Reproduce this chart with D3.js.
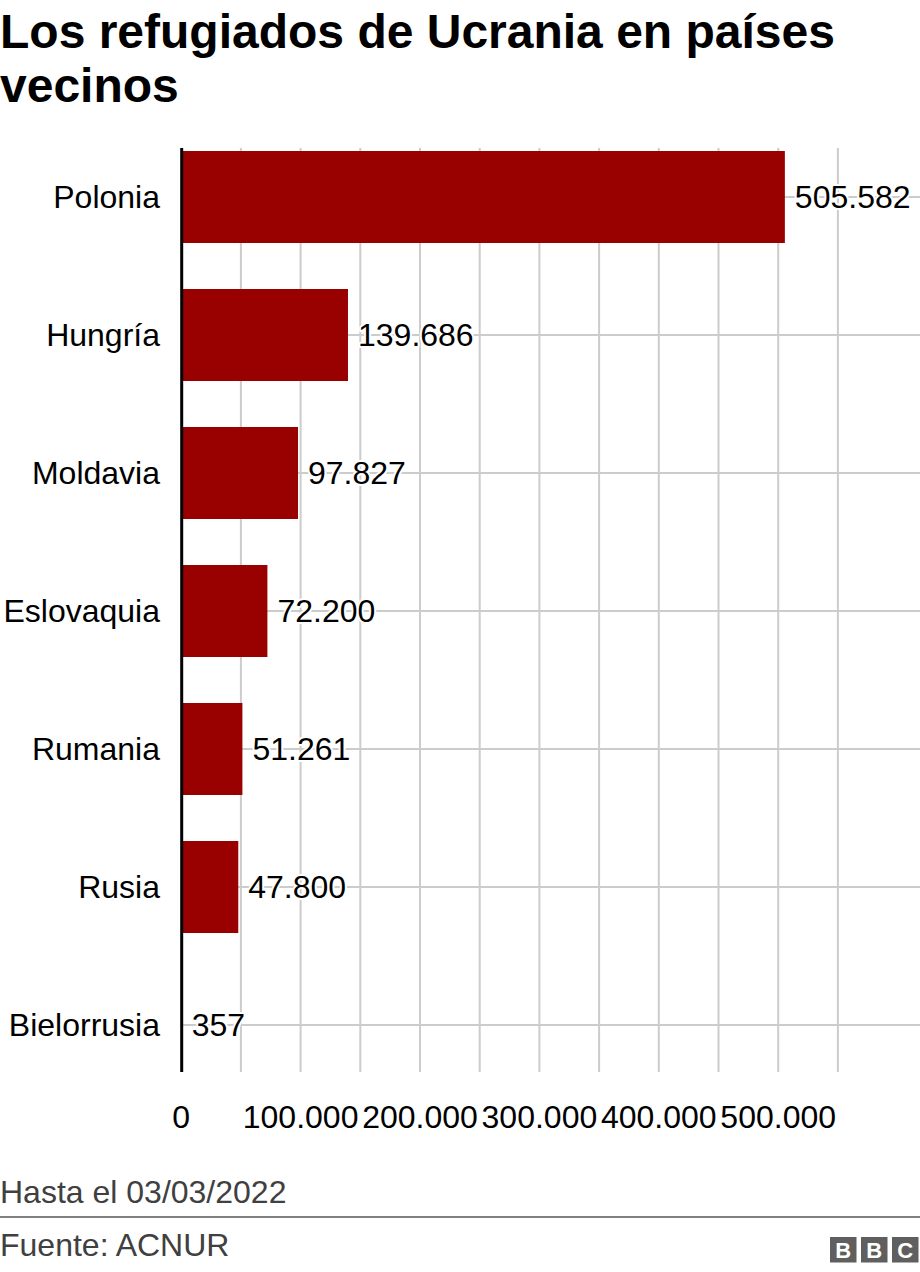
<!DOCTYPE html>
<html>
<head>
<meta charset="utf-8">
<script src="https://cdn.jsdelivr.net/npm/d3@7"></script>
<style>
  html, body { margin: 0; padding: 0; background: #fff; }
  svg { display: block; font-family: "Liberation Sans", Arial, sans-serif; }
</style>
</head>
<body>
<svg id="chart" width="920" height="1272"></svg>
<script>
const categories = ["Polonia", "Hungría", "Moldavia", "Eslovaquia", "Rumania", "Rusia", "Bielorrusia"];
const values = [505582, 139686, 97827, 72200, 51261, 47800, 357];
const gridTicks = [50000, 100000, 150000, 200000, 250000, 300000, 350000, 400000, 450000, 500000, 550000];
const labelTicks = [0, 100000, 200000, 300000, 400000, 500000];
const titleLines = ["Los refugiados de Ucrania en países", "vecinos"];
const note = "Hasta el 03/03/2022";
const source = "Fuente: ACNUR";

(function () {
const svg = d3.select("#chart");
const fmt = v => d3.format(",")(v).replace(/,/g, ".");

const x = d3.scaleLinear().domain([0, 550000]).range([181.2, 837.9]);
const y = d3.scaleBand().domain(categories).range([128, 1094]).paddingInner(1/3).paddingOuter(1/6);

// Title
svg.append("g").selectAll("text").data(titleLines).join("text")
  .attr("x", 0).attr("y", (d, i) => 48 + i * 54)
  .attr("font-size", 48).attr("font-weight", "bold").attr("fill", "#000")
  .text(d => d);

const plotTop = y(categories[0]) - 3;
const plotBottom = y(categories[categories.length - 1]) + y.bandwidth() + 1;

// vertical gridlines
svg.append("g").selectAll("line").data(gridTicks).join("line")
  .attr("x1", d => x(d)).attr("x2", d => x(d))
  .attr("y1", plotTop).attr("y2", plotBottom)
  .attr("stroke", "#cccccc").attr("stroke-width", 2);

// horizontal gridlines
svg.append("g").selectAll("line").data(categories).join("line")
  .attr("x1", x(0)).attr("x2", 920)
  .attr("y1", d => y(d) + y.bandwidth() / 2).attr("y2", d => y(d) + y.bandwidth() / 2)
  .attr("stroke", "#cccccc").attr("stroke-width", 2);

// bars
svg.append("g").selectAll("rect").data(categories).join("rect")
  .attr("x", x(0))
  .attr("y", d => y(d))
  .attr("width", (d, i) => Math.max(0, x(values[i]) - x(0)))
  .attr("height", y.bandwidth())
  .attr("fill", "#990000");

// axis line
svg.append("line")
  .attr("x1", x(0) + 0.5).attr("x2", x(0) + 0.5)
  .attr("y1", plotTop).attr("y2", plotBottom)
  .attr("stroke", "#000").attr("stroke-width", 3);

// category labels
svg.append("g").selectAll("text").data(categories).join("text")
  .attr("x", 160).attr("y", d => y(d) + y.bandwidth() / 2 + 11)
  .attr("text-anchor", "end").attr("font-size", 32).attr("fill", "#000")
  .text(d => d);

// value labels
svg.append("g").selectAll("text").data(categories).join("text")
  .attr("x", (d, i) => x(values[i]) + 10)
  .attr("y", d => y(d) + y.bandwidth() / 2 + 11)
  .attr("font-size", 32).attr("fill", "#000")
  .attr("stroke", "#fff").attr("stroke-width", 4).attr("paint-order", "stroke")
  .attr("stroke-linejoin", "round")
  .text((d, i) => fmt(values[i]));

// x tick labels
svg.append("g").selectAll("text").data(labelTicks).join("text")
  .attr("x", d => x(d)).attr("y", 1128)
  .attr("text-anchor", "middle").attr("font-size", 32).attr("fill", "#000")
  .text(d => fmt(d));

// footer
svg.append("text").attr("x", 0).attr("y", 1203)
  .attr("font-size", 32).attr("fill", "#404040").text(note);
svg.append("line").attr("x1", 0).attr("x2", 920).attr("y1", 1217).attr("y2", 1217)
  .attr("stroke", "#808080").attr("stroke-width", 2);
svg.append("text").attr("x", 0).attr("y", 1256)
  .attr("font-size", 32).attr("fill", "#404040").text(source);

// BBC logo
const logo = svg.append("g").attr("transform", "translate(830,1237)");
["B", "B", "C"].forEach((l, i) => {
  logo.append("rect").attr("x", i * 31).attr("y", 0).attr("width", 26.5).attr("height", 25.5).attr("fill", "#5f5f5f");
  logo.append("text").attr("x", i * 31 + 13.25).attr("y", 20.5).attr("text-anchor", "middle")
    .attr("font-size", 22).attr("font-weight", "bold").attr("fill", "#fff").text(l);
});
})();
</script>
</body>
</html>
